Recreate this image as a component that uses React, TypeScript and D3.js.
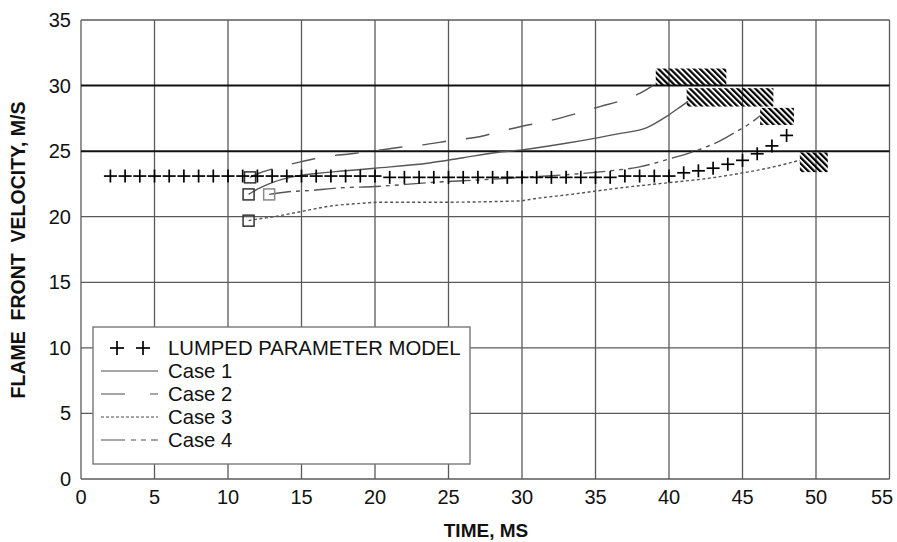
import React from "react";
import * as d3 from "d3";

const xTicks = [0, 5, 10, 15, 20, 25, 30, 35, 40, 45, 50, 55];
const yTicks = [0, 5, 10, 15, 20, 25, 30, 35];

// Lumped parameter model (+ markers)
const lumpedT = [2, 3, 4, 5, 6, 7, 8, 9, 10, 11, 12, 13, 14, 15, 16, 17, 18, 19, 20, 21, 22, 23, 24, 25,
  26, 27, 28, 29, 30, 31, 32, 33, 34, 35, 36, 37, 38, 39, 40, 41, 42, 43, 44, 45, 46, 47, 48];
const lumpedV = [23.1, 23.1, 23.1, 23.1, 23.1, 23.1, 23.1, 23.1, 23.1, 23.1, 23.1, 23.1, 23.1, 23.1, 23.1,
  23.1, 23.1, 23.1, 23.1, 23.0, 23.0, 23.0, 23.0, 23.0, 23.0, 23.0, 23.0, 23.0, 23.0, 23.0, 23.0, 23.0,
  23.0, 23.0, 23.0, 23.1, 23.1, 23.1, 23.1, 23.35, 23.5, 23.7, 24.0, 24.3, 24.8, 25.4, 26.2];

const case1T = [11.4, 12.0, 13.0, 14.2, 16, 18, 20, 23.7, 26, 28.3, 30, 33, 35.3, 36.7, 38.5, 39.9, 40.8, 41.3];
const case1V = [21.7, 22.1, 22.6, 23.0, 23.3, 23.5, 23.7, 24.1, 24.5, 24.9, 25.1, 25.6, 26.05, 26.35, 26.8, 27.7, 28.4, 28.8];

const case2T = [11.5, 12.3, 13.2, 15, 16.7, 18.4, 19.5, 21.7, 23.4, 25.1, 27.1, 28.5, 30, 31.8, 33.5, 35.3, 36.9, 38, 38.9];
const case2V = [23.0, 23.4, 23.7, 24.2, 24.6, 24.8, 24.95, 25.3, 25.5, 25.8, 26.1, 26.5, 26.9, 27.3, 27.8, 28.4, 28.9, 29.4, 30.0];

const case3T = [11.4, 11.9, 13.1, 15, 16.9, 18.8, 20.3, 23.7, 29.7, 31, 33.3, 36.7, 40, 42.5, 44.8, 46.7, 48.9];
const case3V = [19.7, 19.8, 20.0, 20.4, 20.8, 21.0, 21.1, 21.1, 21.2, 21.4, 21.7, 22.2, 22.6, 22.9, 23.3, 23.7, 24.3];

const case4T = [12.8, 14.1, 15.6, 17.6, 20, 23.7, 27, 30, 33, 36, 38, 40, 42, 43.5, 44.6, 45.5, 46.2];
const case4V = [21.7, 21.9, 22.0, 22.2, 22.3, 22.6, 22.8, 23.0, 23.2, 23.5, 23.8, 24.4, 25.1, 25.8, 26.5, 27.1, 27.7];

// start squares
const squareT = [11.5, 11.4, 12.8, 11.4];
const squareV = [23.0, 21.7, 21.7, 19.7];

// hatched end regions: t0, t1, v0, v1
const hatchT0 = [39.1, 41.2, 46.2, 48.9];
const hatchT1 = [43.9, 47.1, 48.5, 50.8];
const hatchV0 = [30.0, 28.4, 27.0, 23.4];
const hatchV1 = [31.3, 29.8, 28.3, 24.9];

const legendLabels = ["LUMPED PARAMETER MODEL", "Case 1", "Case 2", "Case 3", "Case 4"];

const W = 897, H = 542;
const left = 81, right = 889.5, top = 20, bottom = 479;

export default function App() {
  const x = d3.scaleLinear().domain([0, 55]).range([left, right]);
  const y = d3.scaleLinear().domain([0, 35]).range([bottom, top]);
  const line = d3.line<[number, number]>().x(d => x(d[0])).y(d => y(d[1])).curve(d3.curveMonotoneX);
  const zip = (a: number[], b: number[]) => a.map((v, i) => [v, b[i]] as [number, number]);

  const cases = [
    { pts: zip(case1T, case1V), dash: "none" },
    { pts: zip(case2T, case2V), dash: "24,20" },
    { pts: zip(case3T, case3V), dash: "3,2.5" },
    { pts: zip(case4T, case4V), dash: "22,5,4,5,4,5" },
  ];
  const legendDash = ["none", "24,25", "3,2", "24,6,5,5,5,5"];
  const font = "'Liberation Sans', Arial, sans-serif";
  const lineColor = "#555";

  const cross = (cx: number, cy: number, r: number, k: string) => (
    <g key={k} stroke="#000" strokeWidth={1.7}>
      <line x1={cx - r} x2={cx + r} y1={cy} y2={cy} />
      <line x1={cx} x2={cx} y1={cy - r} y2={cy + r} />
    </g>
  );

  return (
    <svg width={W} height={H} style={{ position: "absolute", left: 0, top: 0, background: "#fff" }}>
      <defs>
        <pattern id="hatch" patternUnits="userSpaceOnUse" width={4.2} height={10} patternTransform="rotate(-45)">
          <rect x={0} y={0} width={2.2} height={10} fill="#000" />
        </pattern>
      </defs>
      <rect x={0} y={0} width={W} height={H} fill="#fff" />
      {/* grid */}
      {xTicks.map(t => (
        <line key={"gx" + t} x1={x(t)} x2={x(t)} y1={top} y2={bottom} stroke="#5a5a5a" strokeWidth={1.3} />
      ))}
      {yTicks.map(v => (
        <line key={"gy" + v} x1={left} x2={right} y1={y(v)} y2={y(v)}
          stroke={v === 25 || v === 30 ? "#111" : "#5a5a5a"} strokeWidth={v === 25 || v === 30 ? 2 : 1.3} />
      ))}
      {/* tick labels */}
      {yTicks.map(v => (
        <text key={"ty" + v} x={71} y={y(v)} dy="0.35em" textAnchor="end" fontFamily={font} fontSize={20} fill="#111">{v}</text>
      ))}
      {xTicks.map(t => (
        <text key={"tx" + t} x={t === 55 ? 882 : x(t)} y={504} textAnchor="middle" fontFamily={font} fontSize={20} fill="#111">{t}</text>
      ))}
      {/* axis titles */}
      <text x={486} y={537} textAnchor="middle" fontFamily={font} fontWeight="bold" fontSize={19} fill="#111">TIME, MS</text>
      <text transform={`translate(25,250) rotate(-90)`} textAnchor="middle" fontFamily={font} fontWeight="bold" fontSize={19.5} fill="#111"
        style={{ whiteSpace: "pre" }}>{"FLAME  FRONT  VELOCITY, M/S"}</text>

      {/* hatched regions */}
      {hatchT0.map((t0, i) => (
        <rect key={"h" + i} x={x(t0)} y={y(hatchV1[i])} width={x(hatchT1[i]) - x(t0)} height={y(hatchV0[i]) - y(hatchV1[i])} fill="url(#hatch)" />
      ))}

      {/* case lines */}
      {cases.map((c, i) => (
        <path key={"c" + i} d={line(c.pts) || ""} fill="none" stroke={lineColor} strokeWidth={1.4} strokeDasharray={c.dash} />
      ))}

      {/* start squares */}
      {squareT.map((t, i) => (
        <rect key={"s" + i} x={x(t) - 5.5} y={y(squareV[i]) - 5.5} width={11} height={11} fill="none"
          stroke={i === 2 ? "#888" : "#333"} strokeWidth={1.5} />
      ))}

      {/* lumped model crosses */}
      {lumpedT.map((t, i) => cross(x(t), y(lumpedV[i]), 6.5, "p" + i))}

      {/* legend */}
      <rect x={93} y={327} width={377} height={137} fill="#fff" stroke="#777" strokeWidth={1.4} />
      {cross(117, 348, 7, "l1")}
      {cross(143, 348, 7, "l2")}
      {legendLabels.map((lab, i) => (
        <text key={"lt" + i} x={168} y={348 + i * 23} dy="0.36em" fontFamily={font} fontSize={20.3} fill="#111">{lab}</text>
      ))}
      {legendDash.map((d, i) => (
        <line key={"ll" + i} x1={101} x2={158} y1={371 + i * 23} y2={371 + i * 23} stroke="#888" strokeWidth={1.6} strokeDasharray={d} />
      ))}
    </svg>
  );
}
